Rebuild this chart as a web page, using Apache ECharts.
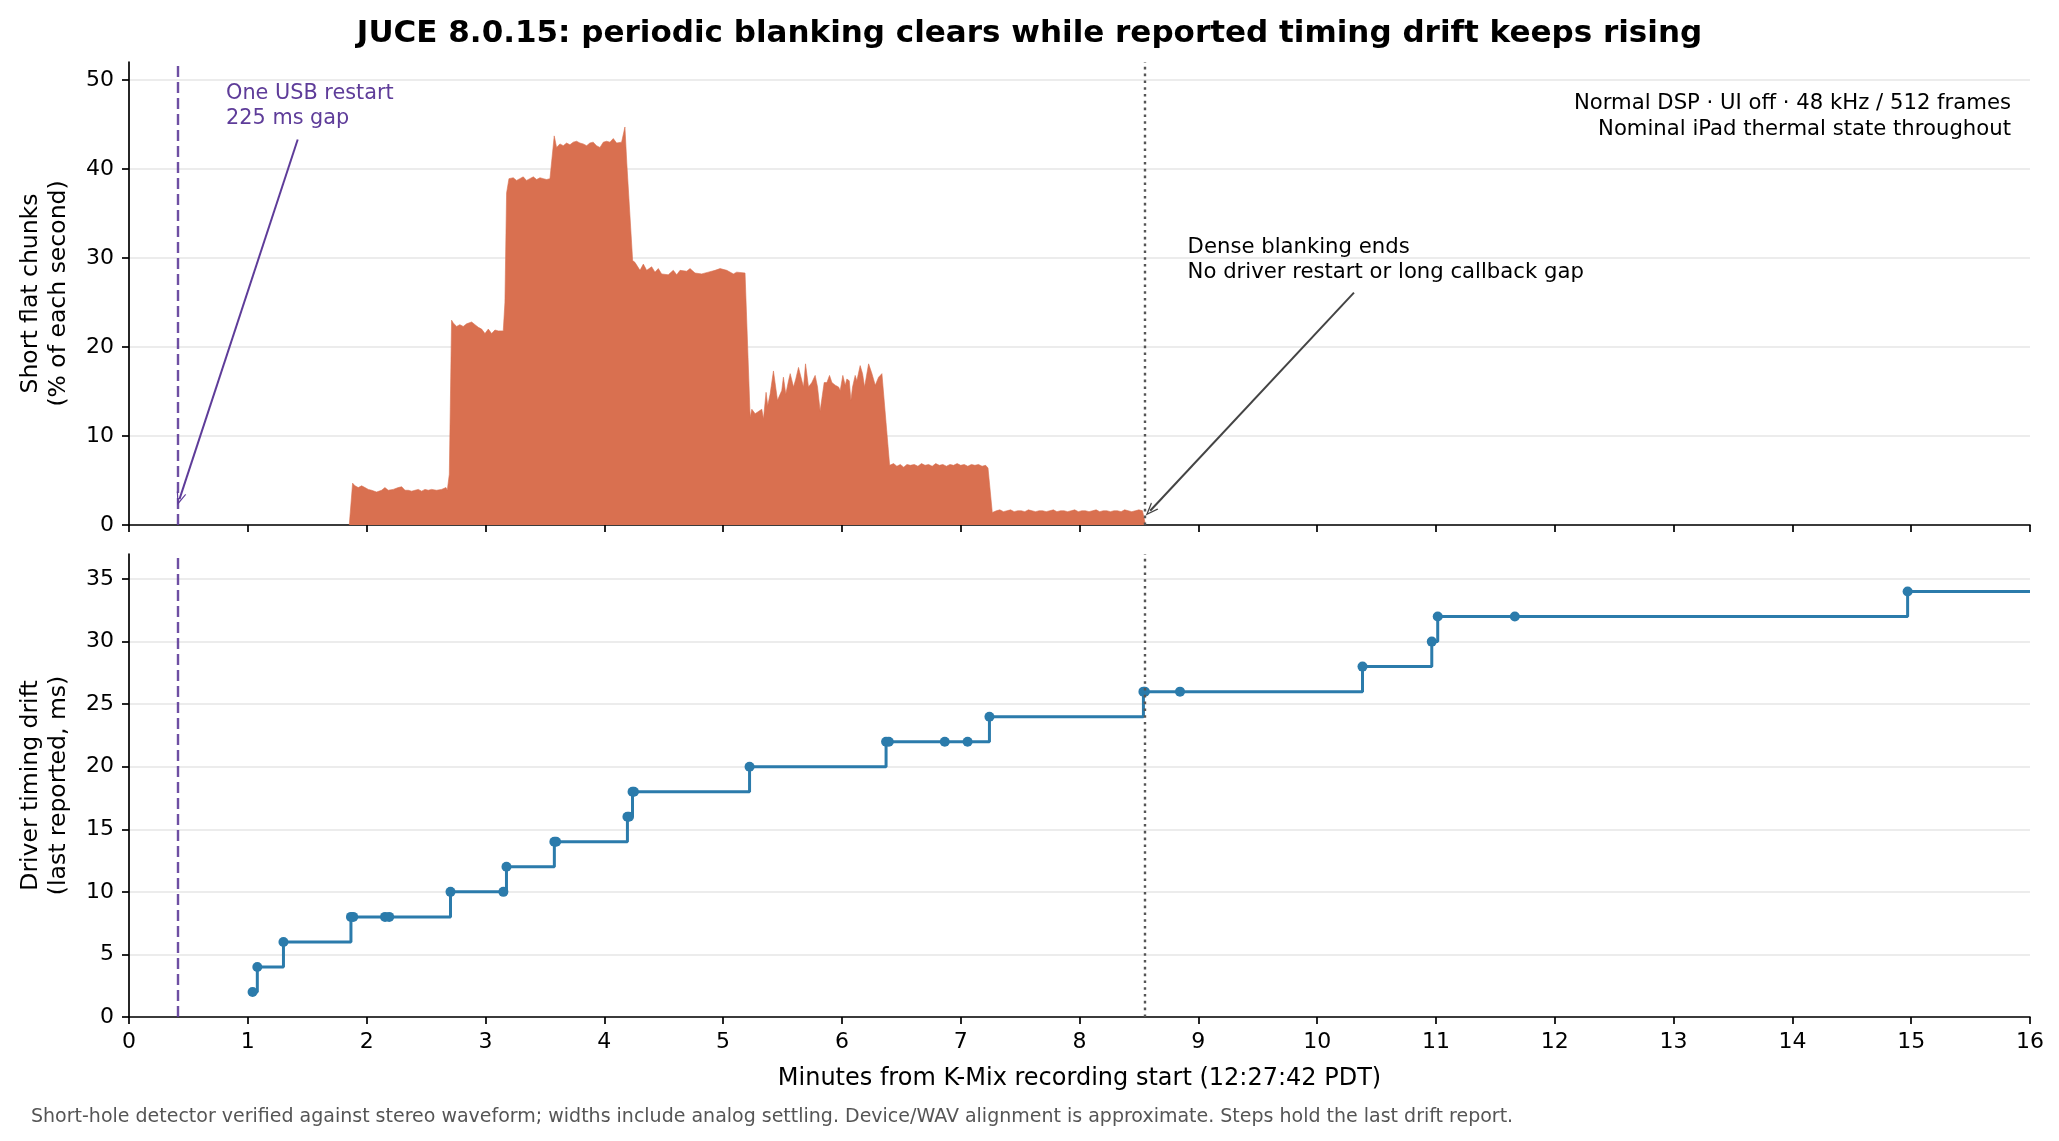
<!DOCTYPE html>
<html><head><meta charset="utf-8">
<script src="https://cdn.jsdelivr.net/npm/echarts@6/dist/echarts.min.js"></script>
<style>html,body{margin:0;padding:0;background:#fff}#c{width:2059px;height:1141px}</style>
</head><body><div id="c"></div>
<script>
// ---- data ----
const blankMin = [1.854,1.882,1.902,1.930,1.958,1.986,2.014,2.042,2.084,2.126,2.154,2.182,2.224,2.266,2.295,2.323,2.351,2.379,2.407,2.435,2.463,2.491,2.519,2.547,2.589,2.631,2.668,2.679,2.696,2.715,2.729,2.757,2.785,2.813,2.842,2.884,2.912,2.940,2.968,2.996,3.024,3.052,3.080,3.108,3.150,3.164,3.178,3.198,3.234,3.262,3.290,3.318,3.346,3.374,3.403,3.431,3.459,3.487,3.515,3.543,3.557,3.579,3.599,3.627,3.655,3.683,3.711,3.739,3.767,3.795,3.823,3.852,3.879,3.907,3.935,3.964,3.992,4.020,4.048,4.076,4.104,4.146,4.160,4.174,4.190,4.205,4.239,4.258,4.301,4.329,4.357,4.399,4.427,4.455,4.483,4.539,4.581,4.610,4.638,4.694,4.722,4.764,4.820,4.876,4.933,4.975,5.031,5.087,5.115,5.185,5.228,5.242,5.270,5.326,5.340,5.362,5.376,5.396,5.424,5.438,5.458,5.494,5.508,5.528,5.551,5.565,5.579,5.593,5.612,5.635,5.649,5.677,5.694,5.719,5.747,5.775,5.795,5.817,5.831,5.851,5.874,5.896,5.916,5.944,5.972,5.986,6.008,6.028,6.042,6.062,6.076,6.090,6.112,6.126,6.154,6.174,6.191,6.225,6.253,6.281,6.309,6.337,6.351,6.402,6.435,6.463,6.492,6.520,6.548,6.576,6.61,6.64,6.67,6.70,6.73,6.76,6.79,6.82,6.85,6.88,6.91,6.94,6.97,7.00,7.03,7.06,7.09,7.12,7.15,7.18,7.21,7.23,7.266,7.30,7.33,7.36,7.39,7.42,7.45,7.48,7.51,7.54,7.57,7.60,7.63,7.66,7.69,7.72,7.75,7.78,7.81,7.84,7.87,7.90,7.93,7.96,7.99,8.02,8.05,8.08,8.11,8.14,8.17,8.20,8.23,8.26,8.29,8.32,8.35,8.38,8.41,8.44,8.47,8.50,8.53,8.545,8.556];
const blankPct = [0,4.7,4.4,4.2,4.4,4.2,4.0,3.9,3.7,3.9,4.2,3.9,4.0,4.2,4.3,3.9,3.9,3.8,3.9,4.0,3.8,4.0,3.9,4.0,3.9,4.0,4.2,3.9,5.7,23.0,22.7,22.3,22.5,22.3,22.6,22.8,22.5,22.2,22.0,21.5,22.0,21.5,21.9,21.8,21.8,25.0,37.3,38.9,39.0,38.7,38.9,39.1,38.7,38.9,39.1,38.8,39.0,38.9,38.8,38.9,38.7,43.7,42.4,42.8,42.6,42.9,42.7,43.0,43.1,42.9,42.8,42.6,42.9,43.0,42.6,42.4,43.0,43.1,43.0,43.4,42.9,43.0,42.9,44.7,40.6,40.6,29.7,29.5,28.6,29.3,28.6,29.0,28.4,28.8,28.2,28.1,28.6,28.1,28.6,28.5,28.8,28.3,28.2,28.4,28.6,28.8,28.6,28.2,28.4,28.3,12.1,13.0,12.5,13.0,11.9,14.9,13.4,14.7,17.3,17.2,14.0,15.1,16.6,14.7,16.2,17.0,17.0,15.5,16.4,17.7,17.5,15.5,18.1,15.5,16.0,16.8,15.5,12.8,13.0,16.0,16.0,16.8,16.0,15.7,15.5,15.1,16.8,15.7,16.4,16.2,14.0,15.5,16.8,16.2,17.9,17.0,15.5,18.1,17.0,15.7,16.6,17.0,16.8,6.7,6.9,6.6,6.8,6.5,6.8,6.7,6.8,6.6,6.9,6.7,6.8,6.6,6.9,6.7,6.8,6.6,6.8,6.7,6.9,6.7,6.8,6.6,6.8,6.7,6.8,6.6,6.7,6.4,1.4,1.6,1.7,1.5,1.6,1.7,1.5,1.6,1.6,1.5,1.7,1.6,1.5,1.6,1.6,1.5,1.6,1.7,1.5,1.6,1.6,1.5,1.6,1.7,1.5,1.6,1.6,1.5,1.6,1.7,1.5,1.6,1.6,1.5,1.6,1.6,1.5,1.7,1.6,1.5,1.6,1.7,1.6,1.7,0];

const driftMin = [1.04,1.08,1.30,1.868,1.887,2.155,2.19,2.706,3.151,3.177,3.58,3.595,4.195,4.208,4.238,4.25,5.223,6.372,6.395,6.866,7.058,7.242,8.538,8.55,8.846,10.382,10.965,11.015,11.664,14.97];
const driftMs  = [2,4,6,8,8,8,8,10,10,12,14,14,16,16,18,18,20,22,22,22,22,24,26,26,26,28,30,32,32,34];
const driftHoldUntil = 16;

const xTicks = [0,1,2,3,4,5,6,7,8,9,10,11,12,13,14,15,16];
const topYTicks = [0,10,20,30,40,50];
const botYTicks = [0,5,10,15,20,25,30,35];

const restartMin = 0.41;     // USB restart (225 ms gap)
const blankEndMin = 8.55;    // dense blanking ends

const titleText = 'JUCE 8.0.15: periodic blanking clears while reported timing drift keeps rising';
const footText = 'Short-hole detector verified against stereo waveform; widths include analog settling. Device/WAV alignment is approximate. Steps hold the last drift report.';

// ---- styling ----
const FONT = 'DejaVu Sans';
const AREA = '#d97050';
const BLUE = '#2b7bab';
const PURPLE = '#5e3c99';
const GRAY = '#555555';
const chevron = 'path://M0,12 L5,0 L10,12 L8.7,12 L5,3.2 L1.3,12 Z';

const areaData = blankMin.map((t, i) => [t, blankPct[i]]);
const stepData = driftMin.map((t, i) => [t, driftMs[i]]);
stepData.push({ value: [driftHoldUntil, driftMs[driftMs.length - 1]], symbol: 'none' });

function xAxisCfg(grid, showLabels, name) {
  return {
    type: 'value', gridIndex: grid, min: 0, max: 16, interval: 1,
    axisLine: { show: true, onZero: false, lineStyle: { color: '#000', width: 1.7 } },
    axisTick: { show: true, inside: false, length: 7, lineStyle: { color: '#000', width: 1.7 } },
    axisLabel: { show: showLabels, margin: 14, fontSize: 22, fontFamily: FONT, color: '#000' },
    splitLine: { show: false },
    name: name || '', nameLocation: 'middle', nameGap: 50,
    nameTextStyle: { fontSize: 24, fontFamily: FONT, color: '#000' }
  };
}
function yAxisCfg(grid, max, ticks, name) {
  return {
    type: 'value', gridIndex: grid, min: 0, max: max,
    axisLine: { show: true, onZero: false, lineStyle: { color: '#000', width: 1.7 } },
    axisTick: { show: true, inside: false, length: 7, customValues: ticks, lineStyle: { color: '#000', width: 1.7 } },
    axisLabel: { show: true, margin: 15, customValues: ticks, fontSize: 22, fontFamily: FONT, color: '#000' },
    splitLine: { show: true, lineStyle: { color: '#e6e6e6', width: 1.6 } },
    name: name, nameLocation: 'middle', nameRotate: 90, nameGap: 56,
    nameTextStyle: { fontSize: 23.5, fontFamily: FONT, color: '#000', lineHeight: 28 }
  };
}

const chart = echarts.init(document.getElementById('c'), null, { renderer: 'canvas' });
chart.setOption({
  animation: false,
  backgroundColor: '#fff',
  textStyle: { fontFamily: FONT },
  title: {
    text: titleText, left: 'center', top: 13,
    textStyle: { fontSize: 31, fontWeight: 'bold', fontFamily: FONT, color: '#000' }
  },
  grid: [
    { left: 129, right: 29, top: 62, height: 463, containLabel: false, outerBoundsMode: 'none' },
    { left: 129, right: 29, top: 554, height: 463, containLabel: false, outerBoundsMode: 'none' }
  ],
  xAxis: [xAxisCfg(0, false), xAxisCfg(1, true, 'Minutes from K-Mix recording start (12:27:42 PDT)')],
  yAxis: [
    yAxisCfg(0, 52, topYTicks, 'Short flat chunks\n(% of each second)'),
    yAxisCfg(1, 37, botYTicks, 'Driver timing drift\n(last reported, ms)')
  ],
  series: [
    {
      type: 'line', xAxisIndex: 0, yAxisIndex: 0, data: areaData,
      symbol: 'none', silent: true, z: 2,
      lineStyle: { width: 0.6, color: AREA },
      areaStyle: { color: AREA, opacity: 1 },
      markLine: {
        silent: true, animation: false, label: { show: false }, symbol: 'none',
        data: [
          { xAxis: restartMin, lineStyle: { color: PURPLE, type: [11, 5], width: 2.4, opacity: 0.9 } },
          { xAxis: blankEndMin, lineStyle: { color: GRAY, type: [2.6, 4.2], width: 2.4 } },
          [ { coord: [1.42, 43.3], symbol: 'none' },
            { coord: [0.425, 2.9], symbol: chevron, symbolSize: [10, 13], lineStyle: { color: PURPLE, width: 2, type: 'solid' } } ],
          [ { coord: [10.31, 26.1], symbol: 'none' },
            { coord: [8.595, 1.6], symbol: chevron, symbolSize: [10, 13], lineStyle: { color: '#444', width: 2, type: 'solid' } } ]
        ]
      }
    },
    {
      type: 'line', xAxisIndex: 1, yAxisIndex: 1, data: stepData, step: 'end',
      symbol: 'circle', symbolSize: 10, showAllSymbol: true, silent: true, z: 3,
      itemStyle: { color: BLUE },
      lineStyle: { color: BLUE, width: 3 },
      markLine: {
        silent: true, animation: false, label: { show: false }, symbol: 'none',
        data: [
          { xAxis: restartMin, lineStyle: { color: PURPLE, type: [11, 5], width: 2.4, opacity: 0.9 } },
          { xAxis: blankEndMin, lineStyle: { color: GRAY, type: [2.6, 4.2], width: 2.4 } }
        ]
      }
    }
  ]
});

// ---- annotations, positioned through the axes ----
function P(x, y) { return chart.convertToPixel({ gridIndex: 0 }, [x, y]); }
function txt(pt, text, color, align, size) {
  return { type: 'text', x: pt[0], y: pt[1], silent: true, z: 10,
    style: { text: text, fill: color, fontSize: size, fontFamily: FONT, align: align, verticalAlign: 'middle' } };
}
const g = [];
g.push(txt(P(0.817, 48.4), 'One USB restart', PURPLE, 'left', 20.8));
g.push(txt(P(0.817, 45.6), '225 ms gap', PURPLE, 'left', 20.8));
g.push(txt(P(15.84, 47.3), 'Normal DSP · UI off · 48 kHz / 512 frames', '#000', 'right', 21.2));
g.push(txt(P(15.84, 44.4), 'Nominal iPad thermal state throughout', '#000', 'right', 21.2));
g.push(txt(P(8.91, 31.2), 'Dense blanking ends', '#000', 'left', 21.2));
g.push(txt(P(8.91, 28.4), 'No driver restart or long callback gap', '#000', 'left', 21.2));
g.push({ type: 'text', x: 31, y: 1117, silent: true,
  style: { text: footText, fill: '#555', fontSize: 19, fontFamily: FONT, align: 'left', verticalAlign: 'middle' } });
chart.setOption({ graphic: g });
</script>
</body></html>
